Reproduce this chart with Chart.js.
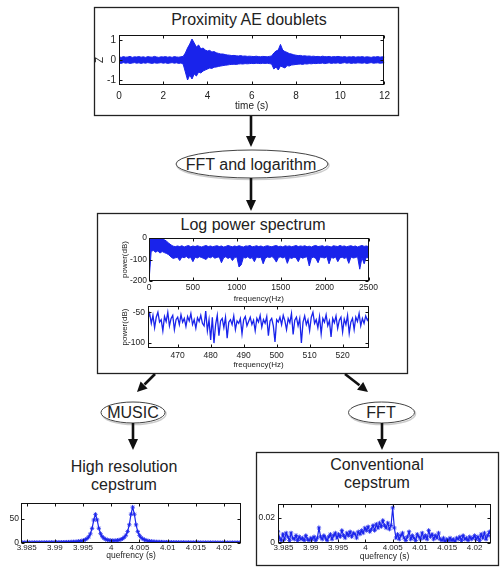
<!DOCTYPE html>
<html>
<head>
<meta charset="utf-8">
<script src="https://cdn.jsdelivr.net/npm/chart.js@4.4.0/dist/chart.umd.min.js"></script>
<style>
  html, body { margin: 0; padding: 0; background: #fff; overflow: hidden; }
  #page { position: relative; width: 502px; height: 568px; }
  #page svg { position: absolute; left: 0; top: 0; }
  #page canvas { position: absolute; }
  .lbl { font-family: 'Liberation Sans', Arial, Helvetica, sans-serif; font-size: 16px; fill: #222; }
</style>
</head>
<body>
<div id="page">
<svg width="502" height="568" viewBox="0 0 502 568">
  <!-- boxes -->
  <rect x="94.5" y="7.5" width="304" height="108" fill="none" stroke="#222" stroke-width="1.3"/>
  <rect x="97.5" y="213.5" width="310" height="160" fill="none" stroke="#222" stroke-width="1.3"/>
  <rect x="256.5" y="452.5" width="242" height="113" fill="none" stroke="#222" stroke-width="1.3"/>

  <!-- ellipses, with a faint shadow -->
  <g fill="none" stroke="#ccc" stroke-width="1.5">
    <ellipse cx="253" cy="165.5" rx="76" ry="14"/>
    <ellipse cx="134" cy="414" rx="32" ry="10.5"/>
    <ellipse cx="382.5" cy="414" rx="33" ry="10.5"/>
  </g>
  <ellipse cx="252" cy="164" rx="76" ry="14" fill="#fff" stroke="#444" stroke-width="1"/>
  <ellipse cx="133" cy="412.5" rx="32" ry="10.5" fill="#fff" stroke="#444" stroke-width="1"/>
  <ellipse cx="381.5" cy="412.5" rx="33" ry="10.5" fill="#fff" stroke="#444" stroke-width="1"/>

  <!-- arrows -->
  <g stroke="#111" stroke-width="2.6" fill="#111">
    <line x1="251" y1="116" x2="251" y2="137"/>
    <polygon points="246,136 256,136 251,147" stroke="none"/>
    <line x1="251" y1="178" x2="251" y2="201"/>
    <polygon points="246,200 256,200 251,211" stroke="none"/>
    <line x1="155" y1="374" x2="144.5" y2="384.5"/>
    <polygon points="147.6,388.5 140.6,381.4 137,392" stroke="none"/>
    <line x1="345" y1="374" x2="359.5" y2="385.3"/>
    <polygon points="357,389.8 363.2,381.9 368,392" stroke="none"/>
    <line x1="133" y1="423" x2="133" y2="440"/>
    <polygon points="128,439 138,439 133,450" stroke="none"/>
    <line x1="382" y1="423" x2="382" y2="440"/>
    <polygon points="377,439 387,439 382,450" stroke="none"/>
  </g>

  <!-- texts -->
  <text class="lbl" x="249" y="25" text-anchor="middle">Proximity AE doublets</text>
  <text class="lbl" x="251" y="170" text-anchor="middle">FFT and logarithm</text>
  <text class="lbl" x="253" y="230" text-anchor="middle">Log power spectrum</text>
  <text class="lbl" x="133" y="418" text-anchor="middle">MUSIC</text>
  <text class="lbl" x="381" y="418" text-anchor="middle">FFT</text>
  <text class="lbl" x="124" y="472" text-anchor="middle">High resolution</text>
  <text class="lbl" x="124" y="490" text-anchor="middle">cepstrum</text>
  <text class="lbl" x="377" y="470" text-anchor="middle">Conventional</text>
  <text class="lbl" x="377" y="488" text-anchor="middle">cepstrum</text>
</svg>
<canvas id="timeChart"></canvas>
<canvas id="specChart"></canvas>
<canvas id="zoomChart"></canvas>
<canvas id="musicChart"></canvas>
<canvas id="fftChart"></canvas>
</div>

<script>
// ---------- data ----------

// AE signal envelope, one value per 0.1 s from 0 to 12 s
const timeStep = 0.1;
const zUpper = [
  0.16,0.13,0.17,0.14,0.15,0.18,0.13,0.16,0.15,0.17,
  0.14,0.16,0.13,0.17,0.15,0.14,0.18,0.15,0.13,0.16,
  0.15,0.17,0.14,0.16,0.13,0.17,0.15,0.14,0.16,0.18,
  0.35,0.6,0.8,1.05,0.85,0.65,0.75,0.55,0.6,0.5,
  0.45,0.48,0.4,0.42,0.36,0.33,0.3,0.3,0.27,0.25,
  0.24,0.22,0.23,0.21,0.2,0.22,0.19,0.2,0.18,0.19,
  0.18,0.17,0.19,0.17,0.16,0.18,0.17,0.16,0.18,0.2,
  0.35,0.45,0.5,0.78,0.5,0.42,0.38,0.32,0.3,0.26,
  0.24,0.22,0.23,0.2,0.21,0.19,0.2,0.18,0.19,0.17,
  0.18,0.16,0.19,0.17,0.16,0.18,0.15,0.17,0.16,0.18,
  0.16,0.15,0.17,0.14,0.16,0.15,0.17,0.14,0.16,0.15,
  0.17,0.14,0.16,0.15,0.13,0.16,0.15,0.17,0.14,0.16,0.15
];
const zLower = [
  -0.15,-0.17,-0.13,-0.16,-0.14,-0.17,-0.15,-0.13,-0.16,-0.14,
  -0.17,-0.14,-0.16,-0.13,-0.15,-0.17,-0.14,-0.16,-0.15,-0.13,
  -0.16,-0.14,-0.17,-0.15,-0.13,-0.16,-0.14,-0.17,-0.15,-0.2,
  -0.6,-1.0,-0.75,-0.95,-0.7,-0.8,-0.6,-0.65,-0.55,-0.5,
  -0.45,-0.4,-0.42,-0.36,-0.35,-0.32,-0.3,-0.28,-0.26,-0.25,
  -0.23,-0.22,-0.21,-0.22,-0.2,-0.19,-0.2,-0.18,-0.19,-0.18,
  -0.17,-0.18,-0.16,-0.17,-0.18,-0.16,-0.17,-0.16,-0.18,-0.2,
  -0.45,-0.35,-0.5,-0.3,-0.35,-0.4,-0.28,-0.3,-0.25,-0.24,
  -0.22,-0.21,-0.2,-0.22,-0.19,-0.2,-0.18,-0.19,-0.17,-0.18,
  -0.16,-0.17,-0.15,-0.18,-0.16,-0.14,-0.17,-0.15,-0.16,-0.14,
  -0.17,-0.15,-0.13,-0.16,-0.14,-0.17,-0.15,-0.16,-0.14,-0.15,
  -0.16,-0.14,-0.17,-0.15,-0.13,-0.16,-0.15,-0.14,-0.16,-0.15,-0.14
];
const timeTicks = [0, 2, 4, 6, 8, 10, 12];
const zTicks = [-1, 0, 1];

// log power spectrum envelope, one value per 25 Hz from 0 to 2500 Hz
const specStep = 25;
const specUpper = [
  -1,-2,-1,-3,-2,-3,-4,-8,-15,-24,
  -32,-38,-40,-37,-40,-36,-42,-38,-35,-41,
  -37,-40,-36,-39,-42,-38,-35,-40,-37,-41,
  -38,-36,-40,-37,-42,-39,-35,-38,-41,-37,
  -40,-36,-39,-42,-37,-38,-35,-41,-39,-36,
  -40,-37,-42,-38,-36,-39,-41,-37,-35,-40,
  -38,-42,-36,-39,-37,-41,-38,-35,-40,-37,
  -39,-36,-41,-38,-42,-37,-35,-40,-38,-36,
  -41,-37,-39,-42,-36,-38,-40,-35,-39,-37,
  -41,-38,-36,-40,-37,-42,-38,-35,-39,-37,-40
];
const specLower = [
  -200,-62,-58,-66,-60,-70,-63,-68,-72,-78,
  -88,-95,-92,-90,-105,-88,-92,-86,-94,-90,
  -110,-89,-93,-87,-91,-95,-100,-88,-92,-86,
  -94,-90,-88,-115,-92,-87,-95,-89,-105,-91,
  -88,-135,-125,-90,-93,-87,-95,-91,-110,-88,
  -92,-89,-120,-94,-88,-91,-86,-95,-112,-90,
  -88,-93,-87,-118,-91,-95,-89,-92,-110,-88,
  -94,-90,-87,-130,-92,-89,-95,-115,-88,-91,
  -93,-87,-120,-90,-94,-88,-110,-92,-89,-95,
  -90,-118,-88,-93,-91,-87,-145,-92,-120,-89,-94
];
const specTicksX = [0, 500, 1000, 1500, 2000, 2500];
const specTicksY = [-200, -100, 0];

// zoomed spectrum, one value per 0.5 Hz from 461 to 528 Hz
const zoomStart = 461, zoomStep = 0.5;
const zoomPower = [
  -60,-52,-68,-55,-75,-58,-50,-66,-62,-80,-57,
  -65,-50,-72,-60,-55,-78,-62,-58,-70,-54,
  -66,-60,-73,-57,-64,-52,-70,-62,-76,-59,
  -65,-55,-68,-72,-48,-80,-62,-95,-58,-100,
  -70,-55,-88,-64,-60,-75,-58,-92,-66,-62,
  -70,-56,-78,-64,-68,-60,-85,-62,-57,-72,
  -65,-58,-70,-63,-80,-60,-66,-55,-74,-62,
  -68,-57,-88,-64,-60,-72,-98,-62,-66,-58,
  -70,-55,-64,-78,-60,-67,-52,-86,-63,-58,
  -72,-60,-100,-66,-56,-70,-62,-80,-58,-50,
  -68,-62,-75,-57,-85,-60,-66,-54,-72,-64,
  -90,-60,-67,-56,-76,-63,-58,-82,-61,-70,
  -55,-84,-66,-60,-78,-58,-65,-52,-72,-60,
  -68,-56,-63,-58
];
const zoomTicksX = [470, 480, 490, 500, 510, 520];
const zoomTicksY = [-100, -50];

// cepstra, one value per 0.0003 s from 3.984 s
const quefStart = 3.984, quefStep = 0.0003;
const musicCep = [
  1.0,1.0,1.0,1.0,1.0,1.0,1.0,1.1,1.1,1.1,
  1.1,1.1,1.1,1.1,1.2,1.2,1.2,1.2,1.3,1.3,
  1.3,1.4,1.4,1.5,1.5,1.6,1.7,1.8,1.9,2.0,
  2.2,2.4,2.6,2.9,3.3,3.8,4.5,5.5,7.0,9.2,
  12.8,19.1,30.3,47.7,59.4,47.9,30.5,19.4,13.3,9.8,
  7.7,6.5,5.7,5.2,5.0,5.0,5.2,5.6,6.3,7.3,
  9.0,11.7,16.1,23.9,37.9,59.7,74.3,59.6,37.7,23.7,
  15.8,11.2,8.4,6.6,5.4,4.5,3.8,3.4,3.0,2.7,
  2.4,2.3,2.1,2.0,1.9,1.7,1.7,1.6,1.6,1.5,
  1.5,1.4,1.4,1.3,1.3,1.3,1.2,1.2,1.2,1.2,
  1.1,1.1,1.1,1.1,1.1,1.1,1.0,1.0,1.0,1.0,
  1.0,1.0,1.0,1.0,1.0,1.0,0.9,0.9,0.9,0.9,
  0.9,0.9,0.9,0.9,0.9,0.9,0.9,0.9,0.9,0.9,0.9
];
const fftCep = [
  0.009,0.004,0.002,0.007,0.003,0.008,0.005,0.002,0.008,0.004,
  0.003,0.006,0.002,0.005,0.003,0.004,0.002,0.006,0.003,0.002,
  0.004,0.003,0.005,0.002,0.004,0.012,0.005,0.003,0.006,0.004,
  0.002,0.005,0.007,0.003,0.006,0.008,0.004,0.007,0.005,0.010,
  0.006,0.004,0.008,0.006,0.009,0.005,0.008,0.007,0.004,0.009,
  0.007,0.010,0.008,0.012,0.010,0.013,0.009,0.011,0.014,0.010,
  0.015,0.012,0.016,0.013,0.018,0.014,0.012,0.016,0.011,0.014,
  0.028,
  0.012,0.004,0.007,0.003,0.006,0.008,0.004,0.002,0.005,
  0.009,0.003,0.006,0.004,0.002,0.007,0.005,0.003,0.008,0.004,
  0.006,0.003,0.010,0.005,0.007,0.003,0.006,0.004,0.008,0.003,
  0.002,0.004,0.001,0.003,0.002,0.004,0.002,0.003,0.001,0.004,
  0.003,0.005,0.002,0.006,0.003,0.004,0.002,0.005,0.003,0.004,
  0.006,0.003,0.005,0.002,0.007,0.004,0.008,0.003,0.006,0.009,0.005
];
const quefTicks = [3.985, 3.99, 3.995, 4, 4.005, 4.01, 4.015, 4.02];
const musicTicksY = [0, 50];
const fftTicksY = [0, 0.02];

// ---------- drawing ----------
Chart.defaults.font.family = "'Liberation Sans', Arial, Helvetica, sans-serif";
Chart.defaults.color = '#222';
const BLUE = 'rgb(25,35,235)';

function series(values, start, step) {
  return values.map((v, i) => ({ x: start + i * step, y: v }));
}

// box around the plot area with short ticks pointing inwards, like matlab
const matlabFrame = {
  id: 'matlabFrame',
  afterDraw(chart) {
    const { ctx, chartArea: a, scales: { x, y } } = chart;
    const l = Math.round(a.left) + 0.5, r = Math.round(a.right) - 0.5;
    const t = Math.round(a.top) + 0.5, b = Math.round(a.bottom) - 0.5;
    ctx.save();
    ctx.strokeStyle = '#111';
    ctx.lineWidth = 1;
    ctx.strokeRect(l, t, r - l, b - t);
    ctx.beginPath();
    x.ticks.forEach(tk => {
      const px = Math.round(x.getPixelForValue(tk.value)) + 0.5;
      ctx.moveTo(px, b); ctx.lineTo(px, b - 3);
      ctx.moveTo(px, t); ctx.lineTo(px, t + 3);
    });
    y.ticks.forEach(tk => {
      const py = Math.round(y.getPixelForValue(tk.value)) + 0.5;
      ctx.moveTo(l, py); ctx.lineTo(l + 3, py);
      ctx.moveTo(r, py); ctx.lineTo(r - 3, py);
    });
    ctx.stroke();
    ctx.restore();
  }
};

function axis(which, a, size) {
  return {
    type: 'linear',
    position: which === 'x' ? 'bottom' : 'left',
    min: a.min,
    max: a.max,
    grid: { display: false, drawTicks: false },
    border: { display: false },
    ticks: {
      font: { size: a.font },
      padding: a.pad,
      maxRotation: 0,
      autoSkip: false,
      callback: v => String(v)
    },
    title: a.title
      ? { display: true, text: a.title, font: { size: a.titleFont }, padding: 0 }
      : { display: false },
    afterBuildTicks: s => { s.ticks = a.ticks.map(v => ({ value: v })); },
    afterFit: s => { if (which === 'x') s.height = size; else s.width = size; }
  };
}

// area = plot box in page pixels [left, top, right, bottom]
function plot(id, area, yW, xH, xAxis, yAxis, datasets) {
  const [L, T, R, B] = area;
  const pt = 8, pr = 10;
  const cv = document.getElementById(id);
  cv.width = R - L + yW + pr;
  cv.height = B - T + pt + xH;
  cv.style.left = (L - yW) + 'px';
  cv.style.top = (T - pt) + 'px';
  return new Chart(cv, {
    type: 'line',
    data: { datasets },
    options: {
      responsive: false,
      animation: false,
      layout: { padding: { top: pt, right: pr, left: 0, bottom: 0 } },
      plugins: { legend: { display: false }, tooltip: { enabled: false } },
      scales: { x: axis('x', xAxis, xH), y: axis('y', yAxis, yW) }
    },
    plugins: [matlabFrame]
  });
}

function band(upper, lower, start, step) {
  return [
    { data: series(upper, start, step), borderColor: BLUE, backgroundColor: BLUE,
      borderWidth: 1, pointRadius: 0, fill: '+1', tension: 0 },
    { data: series(lower, start, step), borderColor: BLUE, backgroundColor: BLUE,
      borderWidth: 1, pointRadius: 0, fill: false, tension: 0 }
  ];
}

function markedLine(values) {
  return [{
    data: series(values, quefStart, quefStep),
    borderColor: BLUE, backgroundColor: BLUE, borderWidth: 1.2,
    pointStyle: 'star', pointRadius: 2.2, pointBorderWidth: 0.8,
    pointBorderColor: BLUE, fill: false, tension: 0
  }];
}

// Proximity AE doublets
plot('timeChart', [119, 34, 385, 85], 25, 27,
  { min: 0, max: 12, ticks: timeTicks, font: 10, pad: 5, title: 'time (s)', titleFont: 10 },
  { min: -1.25, max: 1.25, ticks: zTicks, font: 10, pad: 3, title: 'Z', titleFont: 10 },
  band(zUpper, zLower, 0, timeStep));

// log power spectrum, full range
plot('specChart', [149, 238, 370, 281], 29, 23,
  { min: 0, max: 2500, ticks: specTicksX, font: 8.5, pad: 2, title: 'frequency(Hz)', titleFont: 8 },
  { min: -200, max: 0, ticks: specTicksY, font: 8.5, pad: 2, title: 'power(dB)', titleFont: 8 },
  band(specUpper, specLower, 0, specStep));

// log power spectrum, zoom
plot('zoomChart', [148, 306, 369, 348], 28, 22,
  { min: 461, max: 528, ticks: zoomTicksX, font: 8.5, pad: 3, title: 'frequency(Hz)', titleFont: 8 },
  { min: -108, max: -40, ticks: zoomTicksY, font: 8.5, pad: 3, title: 'power(dB)', titleFont: 8 },
  [{ data: series(zoomPower, zoomStart, zoomStep), borderColor: BLUE, borderWidth: 1.3,
     pointRadius: 0, fill: false, tension: 0 }]);

// high resolution (MUSIC) cepstrum
plot('musicChart', [21, 503, 241, 543], 20, 18,
  { min: 3.984, max: 4.023, ticks: quefTicks, font: 8, pad: 0, title: 'quefrency (s)', titleFont: 8.5 },
  { min: 0, max: 83, ticks: musicTicksY, font: 8.5, pad: 2 },
  markedLine(musicCep));

// conventional (FFT) cepstrum
plot('fftChart', [278, 504, 491, 543], 26, 19,
  { min: 3.984, max: 4.023, ticks: quefTicks, font: 8, pad: 0, title: 'quefrency (s)', titleFont: 8.5 },
  { min: 0, max: 0.031, ticks: fftTicksY, font: 8.5, pad: 3 },
  markedLine(fftCep));
</script>
</body>
</html>
